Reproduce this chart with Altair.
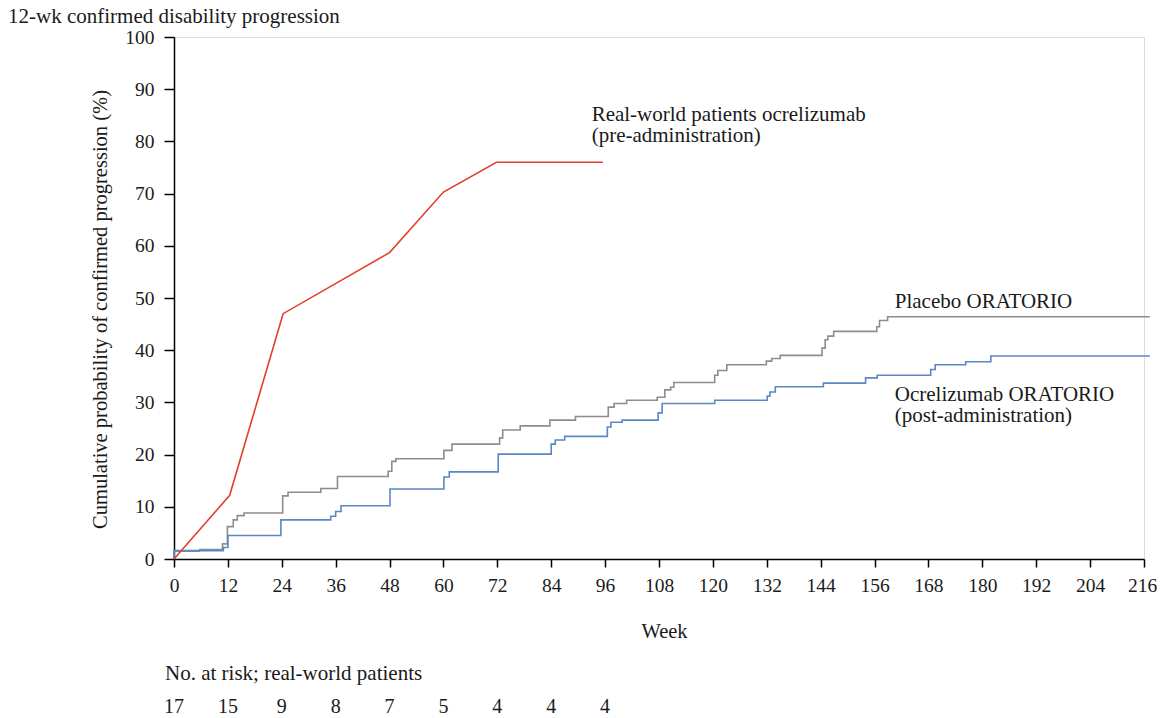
import altair as alt
import pandas as pd

# ---- data ----
week_ticks = list(range(0, 217, 12))
pct_ticks = list(range(0, 101, 10))

placebo_wk = [0, 0, 5.7, 10.8, 11.9, 13.2, 14.1, 15.6, 24.2, 25.4, 32.7, 36.4, 47.7, 48.5, 49.4,
              60.1, 61.9, 72.5, 73.2, 77.1, 83.7, 89.4, 96.7, 98.0, 100.8, 107.6, 109.3, 110.6,
              111.3, 120.4, 121.1, 123.1, 131.9, 133.1, 135.0, 144.3, 145.0, 145.6, 146.9, 156.5,
              157.1, 158.9, 217.3]
placebo_pct = [0, 1.5, 1.8, 2.9, 6.2, 7.5, 8.3, 8.8, 12.1, 12.8, 13.5, 15.8, 16.8, 18.7, 19.2,
               20.8, 22.0, 23.2, 24.7, 25.5, 26.6, 27.3, 29.1, 29.8, 30.4, 31.0, 32.4, 32.9,
               33.8, 35.2, 36.1, 37.2, 37.9, 38.4, 39.0, 40.4, 42.0, 42.7, 43.6, 44.5,
               45.7, 46.4, 46.4]

ocr_wk = [0, 0, 11.0, 12.0, 23.8, 34.9, 36.0, 37.2, 48.1, 60.1, 61.3, 72.2, 84.0, 84.9, 87.0,
          96.5, 97.3, 99.8, 107.8, 108.7, 120.4, 132.1, 132.7, 133.9, 144.6, 154.0, 156.6,
          168.5, 169.5, 176.3, 181.9, 217.3]
ocr_pct = [0, 1.6, 2.2, 4.5, 7.5, 8.2, 9.1, 10.2, 13.4, 15.7, 16.7, 20.1, 22.0, 22.8, 23.5,
           25.3, 26.2, 26.6, 28.0, 29.8, 30.4, 31.2, 32.0, 33.0, 33.7, 34.7, 35.2,
           36.3, 37.2, 37.8, 38.9, 38.9]

rw_wk = [0, 12.4, 24.3, 48.0, 60.0, 71.8, 95.5]
rw_pct = [0, 12.2, 47.0, 58.7, 70.3, 76.0, 76.0]

risk_wk = [0, 12, 24, 36, 48, 60, 72, 84, 96]
risk_n = [17, 15, 9, 8, 7, 5, 4, 4, 4]

note_text = ["Real-world patients ocrelizumab", "(pre-administration)",
             "Placebo ORATORIO", "Ocrelizumab ORATORIO", "(post-administration)"]
note_wk = [93.0, 93.0, 160.5, 160.5, 160.5]
note_pct = [84.0, 79.9, 48.0, 30.2, 26.2]

FONT = "Liberation Serif"
TXT = "#1a1a1a"
RED = "#e2402d"
GRAY = "#8d8d8d"
BLUE = "#5a87c6"

placebo = pd.DataFrame({"week": placebo_wk, "pct": placebo_pct, "i": range(len(placebo_wk))})
ocr = pd.DataFrame({"week": ocr_wk, "pct": ocr_pct, "i": range(len(ocr_wk))})
rw = pd.DataFrame({"week": rw_wk, "pct": rw_pct, "i": range(len(rw_wk))})
notes = pd.DataFrame({"week": note_wk, "pct": note_pct, "label": note_text})
risk = pd.DataFrame({"week": risk_wk, "n": risk_n})
head = pd.DataFrame({"label": ["No. at risk; real-world patients", "12-wk confirmed disability progression"],
                     "px": [-9, -166], "py": [643, -14]})

xs = alt.Scale(domain=[0, 216], nice=False, zero=False)
ys = alt.Scale(domain=[0, 100], nice=False)

x_axis = alt.Axis(values=week_ticks, title="Week", titleFont=FONT, titleFontSize=20.5,
                  titleFontWeight="normal", titleColor=TXT, titleX=490, titleY=78,
                  titleBaseline="alphabetic", labelFont=FONT, labelFontSize=19.5, labelColor=TXT,
                  labelFlush=False, labelOverlap=False, labelPadding=9, tickSize=8,
                  labelOffset={"condition": {"test": "datum.value == 216", "value": -2}, "value": 0},
                  tickColor="#000", domainColor="#000", tickWidth=1.5, domainWidth=1.5, grid=False)
y_axis = alt.Axis(values=pct_ticks, title="Cumulative probability of confirmed progression (%)",
                  titleFont=FONT, titleFontSize=20.5, titleFontWeight="normal", titleColor=TXT,
                  titleX=-68, titleY=272, titleBaseline="alphabetic", titleAngle=270,
                  labelFont=FONT, labelFontSize=19.5, labelColor=TXT, labelPadding=10,
                  labelOverlap=False, tickSize=10, tickColor="#000", domainColor="#000",
                  tickWidth=1.5, domainWidth=1.5, grid=False)

gray_line = alt.Chart(placebo).mark_line(interpolate="step-after", color=GRAY, strokeWidth=1.6).encode(
    x=alt.X("week:Q", scale=xs, axis=x_axis),
    y=alt.Y("pct:Q", scale=ys, axis=y_axis),
    order="i:Q",
)
blue_line = alt.Chart(ocr).mark_line(interpolate="step-after", color=BLUE, strokeWidth=1.6).encode(
    x="week:Q", y="pct:Q", order="i:Q"
)
red_line = alt.Chart(rw).mark_line(color=RED, strokeWidth=1.6).encode(
    x="week:Q", y="pct:Q", order="i:Q"
)
note_layer = alt.Chart(notes).mark_text(align="left", baseline="alphabetic", font=FONT,
                                        fontSize=21, color=TXT).encode(
    x="week:Q", y="pct:Q", text="label:N"
)
risk_layer = alt.Chart(risk).mark_text(align="center", baseline="alphabetic", font=FONT,
                                       fontSize=20, color=TXT).encode(
    x="week:Q", y=alt.value(676), text="n:Q"
)
head_layer = alt.Chart(head).mark_text(align="left", baseline="alphabetic", font=FONT,
                                       fontSize=21, color=TXT).encode(
    x=alt.X("px:Q", scale=None), y=alt.Y("py:Q", scale=None), text="label:N"
)

chart = alt.layer(gray_line, blue_line, red_line, note_layer, risk_layer, head_layer).properties(
    width=970, height=522,
    padding={"left": 166, "top": 29, "right": 13, "bottom": 159},
    autosize=alt.AutoSizeParams(type="none"),
).configure_view(stroke=None).configure(background="white")

chart.save("out.html", embed_options={"renderer": "svg", "actions": False})
